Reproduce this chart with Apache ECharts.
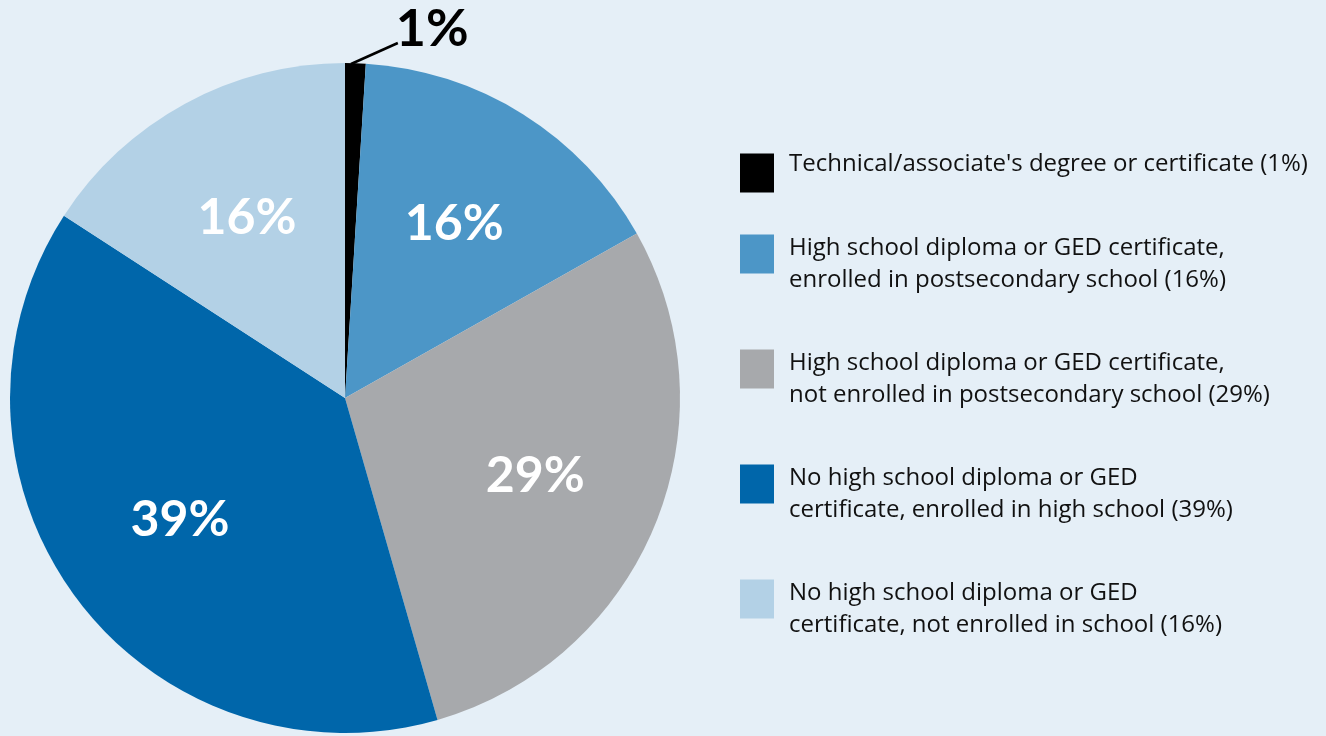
<!DOCTYPE html>
<html>
<head>
<meta charset="utf-8">
<script src="https://cdn.jsdelivr.net/npm/echarts@6/dist/echarts.min.js"></script>
<style>
html,body{margin:0;padding:0;background:#e5eff7;}
#chart{width:1326px;height:736px;}
</style>
</head>
<body>
<div id="chart"></div>
<script>
const categories = [
  "Technical/associate's degree or certificate",
  "High school diploma or GED certificate,\nenrolled in postsecondary school",
  "High school diploma or GED certificate,\nnot enrolled in postsecondary school",
  "No high school diploma or GED\ncertificate, enrolled in high school",
  "No high school diploma or GED\ncertificate, not enrolled in school"
];
const values = [1, 16, 29, 39, 16];
const colors = ['#000000', '#4c96c7', '#a7a9ac', '#0066aa', '#b3d1e6'];

const chart = echarts.init(document.getElementById('chart'));
const mainData = categories.map((n, i) => ({
  name: n, value: values[i], itemStyle: { color: colors[i] },
  label: { show: i === 0 },
  labelLine: { show: i === 0 }
}));
const labelData = categories.map((n, i) => ({
  name: n, value: values[i],
  label: { show: i !== 0 }
}));

chart.setOption({
  backgroundColor: '#e5eff7',
  animation: false,
  legend: {
    orient: 'vertical',
    left: 740, top: 148,
    padding: 0,
    itemWidth: 34, itemHeight: 39, itemGap: -3,
    icon: 'rect',
    selectedMode: false,
    data: categories,
    formatter: function (name) {
      const i = categories.indexOf(name);
      const txt = name + ' (' + values[i] + '%)';
      if (i === 0) return txt + '\n{b1|\u00a0}';
      return '{t|\u00a0}\n' + txt + '\n{b|\u00a0}';
    },
    textStyle: {
      fontFamily: 'Open Sans', fontSize: 24, lineHeight: 32, color: '#111',
      padding: [0, 0, 0, 10],
      rich: {
        t: { fontSize: 1, lineHeight: 37 },
        b: { fontSize: 1, lineHeight: 17 },
        b1: { fontSize: 1, lineHeight: 18 }
      }
    }
  },
  series: [
    {
      type: 'pie',
      center: [345, 398], radius: [0, 335],
      startAngle: 90, clockwise: true,
      silent: true,
      itemStyle: { borderWidth: 0 },
      label: {
        position: 'outside', formatter: '{c}%',
        fontFamily: 'Lato', fontWeight: 'bold', fontSize: 52, color: '#000'
      },
      labelLine: { show: true, length: 20, length2: 20, lineStyle: { color: '#000', width: 2.5 } },
      labelLayout: function (p) {
        if (p.dataIndex !== 0) return {};
        const r = p.rect;
        return {
          x: r.x + r.width + 30, y: r.y - 34,
          labelLinePoints: [
            [r.x + 6, r.y + 1],
            [r.x + r.width + 32, r.y - 20],
            [r.x + r.width + 32, r.y - 20]
          ]
        };
      },
      data: mainData
    },
    {
      type: 'pie',
      center: [345, 398], radius: [0, 405],
      startAngle: 90, clockwise: true,
      silent: true,
      itemStyle: { color: 'rgba(0,0,0,0)' },
      label: {
        position: 'inside', formatter: '{c}%',
        fontFamily: 'Lato', fontWeight: 'bold', fontSize: 50, color: '#ffffff'
      },
      labelLine: { show: false },
      data: labelData
    }
  ]
});
</script>
</body>
</html>
